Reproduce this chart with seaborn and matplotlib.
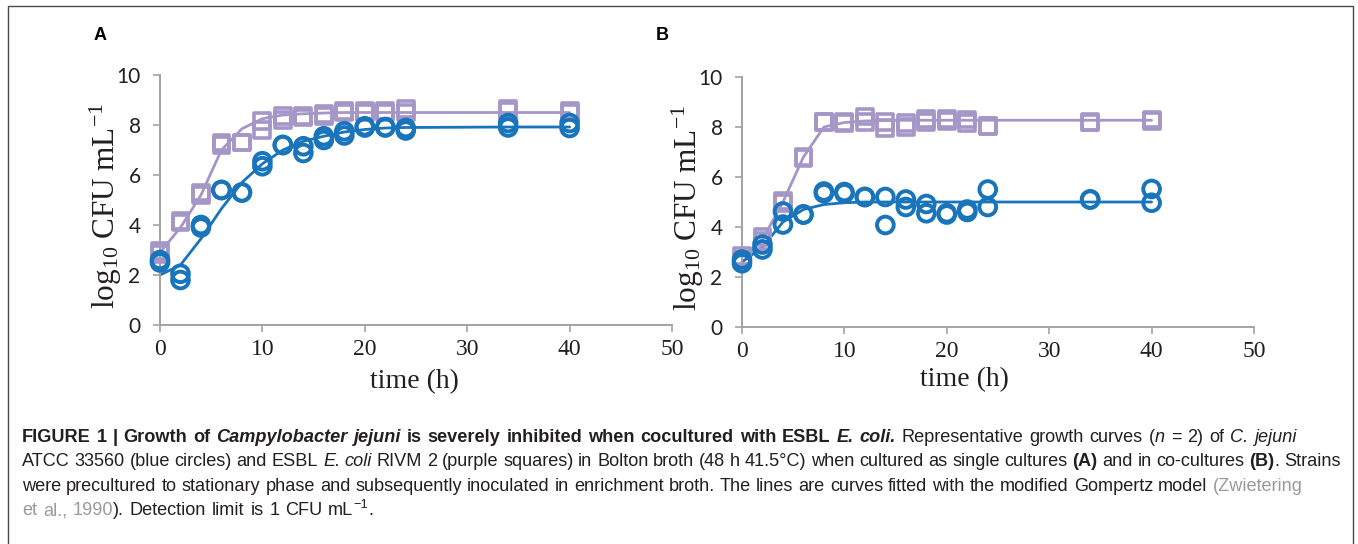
import re
import matplotlib
matplotlib.use("Agg")
import matplotlib.pyplot as plt
import numpy as np
import pandas as pd
import seaborn as sns
from matplotlib.patches import Rectangle

# ---------------- data ----------------
time_h = [0, 2, 4, 6, 8, 10, 12, 14, 16, 18, 20, 22, 24, 34, 40]

# Panel A: single cultures
a_ecoli_rep1 = [2.95, 4.15, 5.30, 7.30, 7.30, 8.15, 8.35, 8.35, 8.45, 8.55, 8.55, 8.55, 8.65, 8.65, 8.55]
a_ecoli_rep2 = [2.85, 4.10, 5.20, 7.20, 7.30, 7.80, 8.20, 8.30, 8.35, 8.50, 8.50, 8.50, 8.50, 8.55, 8.50]
a_ecoli_fit = [2.90, 3.90, 5.20, 7.00, 7.85, 8.25, 8.40, 8.45, 8.48, 8.50, 8.50, 8.50, 8.50, 8.50, 8.50]
a_cjej_rep1 = [2.60, 2.05, 4.00, 5.40, 5.30, 6.55, 7.20, 7.15, 7.55, 7.75, 7.95, 7.92, 7.88, 8.08, 8.08]
a_cjej_rep2 = [2.50, 1.80, 3.90, 5.40, 5.30, 6.35, 7.20, 6.88, 7.40, 7.58, 7.90, 7.90, 7.78, 7.90, 7.88]
a_cjej_fit = [2.00, 2.40, 3.45, 4.65, 5.70, 6.45, 7.00, 7.35, 7.55, 7.72, 7.82, 7.88, 7.90, 7.92, 7.92]

# Panel B: co-cultures
b_ecoli_rep1 = [2.83, 3.60, 5.05, 6.80, 8.20, 8.20, 8.42, 8.20, 8.15, 8.33, 8.32, 8.30, 8.05, 8.20, 8.30]
b_ecoli_rep2 = [2.70, 3.45, 4.95, 6.75, 8.20, 8.15, 8.20, 7.95, 8.00, 8.20, 8.25, 8.15, 8.05, 8.18, 8.25]
b_ecoli_fit = [2.80, 3.50, 5.00, 6.80, 8.00, 8.18, 8.24, 8.26, 8.27, 8.27, 8.27, 8.27, 8.27, 8.27, 8.27]
b_cjej_rep1 = [2.70, 3.30, 4.62, 4.50, 5.42, 5.40, 5.20, 5.20, 5.10, 4.92, 4.55, 4.70, 5.50, 5.10, 5.52]
b_cjej_rep2 = [2.55, 3.10, 4.10, 4.50, 5.35, 5.35, 5.20, 4.08, 4.80, 4.55, 4.50, 4.60, 4.80, 5.10, 4.97]
b_cjej_fit = [2.60, 3.20, 4.20, 4.70, 4.90, 4.97, 5.00, 5.00, 5.00, 5.00, 5.00, 5.00, 5.00, 5.00, 5.00]

x_ticks = [0, 10, 20, 30, 40, 50]
y_ticks = [0, 2, 4, 6, 8, 10]
panel_labels = ["A", "B"]
x_label = "time (h)"
y_label = r"$\mathregular{log_{10}\ CFU\ mL^{-1}}$"

caption_lines = [
    [("FIGURE 1 | Growth of ", "bold", "normal", "text"),
     ("Campylobacter jejuni", "bold", "italic", "text"),
     (" is severely inhibited when cocultured with ESBL ", "bold", "normal", "text"),
     ("E. coli.", "bold", "italic", "text"),
     (" Representative growth curves (", "normal", "normal", "text"),
     ("n", "normal", "italic", "text"),
     (" = 2) of ", "normal", "normal", "text"),
     ("C. jejuni", "normal", "italic", "text")],
    [("ATCC 33560 (blue circles) and ESBL ", "normal", "normal", "text"),
     ("E. coli", "normal", "italic", "text"),
     (" RIVM 2 (purple squares) in Bolton broth (48 h 41.5°C) when cultured as single cultures ", "normal", "normal", "text"),
     ("(A)", "bold", "normal", "text"),
     (" and in co-cultures ", "normal", "normal", "text"),
     ("(B)", "bold", "normal", "text"),
     (". Strains", "normal", "normal", "text")],
    [("were precultured to stationary phase and subsequently inoculated in enrichment broth. The lines are curves fitted with the modified Gompertz model ", "normal", "normal", "text"),
     ("(Zwietering", "normal", "normal", "link")],
    [("et al., 1990", "normal", "normal", "link"),
     ("). Detection limit is 1 CFU mL", "normal", "normal", "text"),
     ("\u22121", "normal", "normal", "sup"),
     (".", "normal", "normal", "text")],
]
caption_line_ends = [1296, 1340, 1302, 373]

# ---------------- style ----------------
PURPLE = "#a596c8"
BLUE = "#1874bb"
AXIS_GRAY = "#a3a3a3"
TEXT = "#231f20"
LINK = "#9a9a9a"

sns.set_theme(style="white")
plt.rcParams["font.family"] = ["Liberation Sans", "DejaVu Sans"]
plt.rcParams["mathtext.fontset"] = "custom"
plt.rcParams["mathtext.rm"] = "Liberation Serif"
plt.rcParams["mathtext.it"] = "Liberation Serif:italic"

W, H = 1358, 544
fig = plt.figure(figsize=(W / 100, H / 100), dpi=100)
fig.patch.set_facecolor("white")


def px_axes(left, y0, right, y10):
    return fig.add_axes([left / W, 1 - y0 / H, (right - left) / W, (y0 - y10) / H])


axA = px_axes(160, 325, 672, 75)
axB = px_axes(742, 327, 1254, 77)

panels = [
    (axA, a_ecoli_rep1, a_ecoli_rep2, a_ecoli_fit, a_cjej_rep1, a_cjej_rep2, a_cjej_fit, 0.497, -0.178),
    (axB, b_ecoli_rep1, b_ecoli_rep2, b_ecoli_fit, b_cjej_rep1, b_cjej_rep2, b_cjej_fit, 0.434, -0.160),
]

for ax, e1, e2, ef, c1, c2, cf, xl_x, xl_y in panels:
    ecoli = pd.DataFrame({"time": time_h + time_h, "value": e1 + e2})
    cjej = pd.DataFrame({"time": time_h + time_h, "value": c1 + c2})
    fit_e = pd.DataFrame({"time": time_h, "value": ef})
    fit_c = pd.DataFrame({"time": time_h, "value": cf})

    sns.lineplot(data=fit_e, x="time", y="value", color=PURPLE, linewidth=2.0,
                 ax=ax, zorder=2, clip_on=False)
    sns.lineplot(data=fit_c, x="time", y="value", color=BLUE, linewidth=2.0,
                 ax=ax, zorder=2, clip_on=False)
    sns.scatterplot(data=ecoli, x="time", y="value", marker="s", s=130,
                    facecolors="none", edgecolor=PURPLE, linewidth=2.6,
                    ax=ax, zorder=3, clip_on=False)
    sns.scatterplot(data=cjej, x="time", y="value", marker="o", s=145,
                    facecolors="none", edgecolor=BLUE, linewidth=2.8,
                    ax=ax, zorder=4, clip_on=False)

    ax.set_xlim(0, 50)
    ax.set_ylim(0, 10)
    ax.set_xticks(x_ticks)
    ax.set_yticks(y_ticks)
    ax.set_xticklabels([str(v) for v in x_ticks], fontfamily="Liberation Serif",
                       fontsize=17, color=TEXT)
    ax.set_yticklabels([str(v) for v in y_ticks], fontfamily="Lato",
                       fontsize=15, color=TEXT)
    for side in ("top", "right"):
        ax.spines[side].set_visible(False)
    for side in ("left", "bottom"):
        ax.spines[side].set_color(AXIS_GRAY)
        ax.spines[side].set_linewidth(1.4)
    ax.tick_params(axis="x", direction="out", length=5, width=1.2, color=AXIS_GRAY,
                   pad=5, bottom=True)
    ax.tick_params(axis="y", direction="out", length=5, width=1.2, color=AXIS_GRAY,
                   pad=9, left=True)
    ax.set_xlabel(x_label, fontfamily="Liberation Serif", fontsize=20, color=TEXT)
    ax.set_ylabel(y_label, fontfamily="Liberation Serif", fontsize=22.5, color=TEXT)
    ax.xaxis.set_label_coords(xl_x, xl_y)
    ax.yaxis.set_label_coords(-0.07, 0.475)
    ax.grid(False)
    ax.set_facecolor("none")

# panel letters
fig.text(100 / W, 1 - 35 / H, panel_labels[0], fontsize=13, fontweight="bold",
         ha="center", va="center", color="black")
fig.text(662 / W, 1 - 35 / H, panel_labels[1], fontsize=13, fontweight="bold",
         ha="center", va="center", color="black")

# border
fig.add_artist(Rectangle((8 / W, -0.02), (1353 - 8) / W, 1.02 - 6 / H,
                         transform=fig.transFigure, fill=False,
                         edgecolor="#4a4a4a", linewidth=1.0))

# ---------------- caption ----------------
renderer = fig.canvas.get_renderer()


def seg_width(text, size, weight, style):
    ref = fig.text(0, 0, "xx", fontsize=size, fontweight=weight, fontstyle=style)
    t = fig.text(0, 0, "x" + text + "x", fontsize=size, fontweight=weight, fontstyle=style)
    w = t.get_window_extent(renderer).width - ref.get_window_extent(renderer).width
    ref.remove()
    t.remove()
    return w


def sizes_for(kind, size):
    return size * 0.7 if kind == "sup" else size


cap_size = 13.1
left_x = 22.0
baselines = [442, 466, 491, 515]
for line, yb, end in zip(caption_lines, baselines, caption_line_ends):
    natural = sum(seg_width(t, sizes_for(k, cap_size), w, s) for t, w, s, k in line)
    n_spaces = sum(t.count(" ") for t, w, s, k in line)
    extra = 0.0
    if end is not None and n_spaces:
        extra = (end - left_x - natural) / n_spaces
    x = left_x
    for text, weight, style, kind in line:
        size = sizes_for(kind, cap_size)
        color = LINK if kind == "link" else TEXT
        y = H - yb + (cap_size * 0.55 if kind == "sup" else 0)
        space_w = seg_width(" ", size, weight, style)
        for token in re.split("( )", text):
            if token == "":
                continue
            if token == " ":
                x += space_w + extra
                continue
            fig.text(x / W, y / H, token, fontsize=size, fontweight=weight,
                     fontstyle=style, color=color, ha="left", va="baseline")
            x += seg_width(token, size, weight, style)

fig.savefig("out.png", dpi=100, facecolor="white")
